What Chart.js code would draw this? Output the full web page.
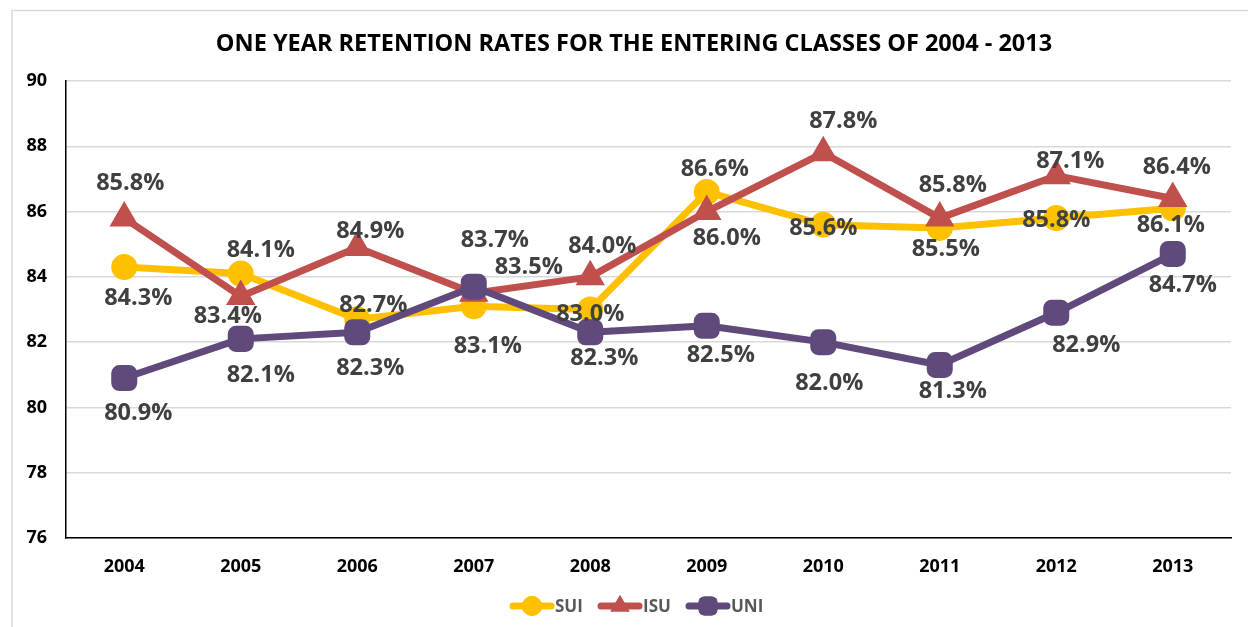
<!DOCTYPE html>
<html>
<head>
<meta charset="utf-8">
<script src="https://cdn.jsdelivr.net/npm/chart.js@4.4.1/dist/chart.umd.min.js"></script>
<style>
  html, body { margin: 0; padding: 0; background: #fff; }
  #wrap { position: relative; width: 1248px; height: 627px; }
</style>
</head>
<body>
<div id="wrap"><canvas id="c" width="1248" height="627"></canvas></div>
<script>
// ---- data ----
const categories = ['2004','2005','2006','2007','2008','2009','2010','2011','2012','2013'];
const sui = [84.3, 84.1, 82.7, 83.1, 83.0, 86.6, 85.6, 85.5, 85.8, 86.1];
const isu = [85.8, 83.4, 84.9, 83.5, 84.0, 86.0, 87.8, 85.8, 87.1, 86.4];
const uni = [80.9, 82.1, 82.3, 83.7, 82.3, 82.5, 82.0, 81.3, 82.9, 84.7];
const seriesNames = ['SUI', 'ISU', 'UNI'];
const yTicks = [76, 78, 80, 82, 84, 86, 88, 90];
const titleText = 'ONE YEAR RETENTION RATES FOR THE ENTERING CLASSES OF 2004 - 2013';

// ---- label placement (pixel offsets from each point, layout only) ----
const labelOffsets = [
  [[14,30],[20,-25],[16,-16],[14,38],[0,3],[8,-24],[0,2],[6,20],[0,1],[-2,15]],
  [[6,-36],[-13,18],[13,-18],[55,-28],[12,-32],[20,25],[20,-33],[13,-34],[14,-16],[4,-33]],
  [[14,34],[20,35],[13,34],[21,-48],[14,24],[14,28],[6,39],[13,25],[30,31],[10,30]]
];

const colors = ['#FFC000', '#C0504D', '#604A7B'];
const FONT = "'Open Sans', 'Liberation Sans', sans-serif";

const dataLabels = {
  id: 'dataLabels',
  afterDatasetsDraw(chart) {
    const ctx = chart.ctx;
    ctx.save();
    const size = 23.5;
    ctx.font = 'bold ' + size + 'px ' + FONT;
    ctx.fillStyle = '#404040';
    ctx.textAlign = 'center';
    ctx.textBaseline = 'alphabetic';
    chart.data.datasets.forEach((ds, di) => {
      const meta = chart.getDatasetMeta(di);
      meta.data.forEach((pt, i) => {
        const off = labelOffsets[di][i];
        const txt = ds.data[i].toFixed(1) + '%';
        ctx.fillText(txt, pt.x + off[0], pt.y + off[1] + size * 0.357);
      });
    });
    ctx.restore();
  }
};

const decor = {
  id: 'decor',
  beforeDraw(chart) {
    const ctx = chart.ctx;
    ctx.save();
    ctx.strokeStyle = '#d9d9d9';
    ctx.lineWidth = 1.5;
    ctx.beginPath();
    ctx.moveTo(12, 640);
    ctx.lineTo(12, 10.5);
    ctx.lineTo(1260, 10.5);
    ctx.stroke();
    ctx.restore();
  },
  afterDraw(chart) {
    const ctx = chart.ctx;
    ctx.save();
    // title
    const ts = 23.5;
    ctx.font = 'bold ' + ts + 'px ' + FONT;
    ctx.fillStyle = '#000';
    ctx.textAlign = 'center';
    ctx.textBaseline = 'alphabetic';
    ctx.fillText(titleText, 634, 42.5 + ts * 0.357);
    // legend
    const items = chart.data.datasets;
    const ly = 606;
    const starts = [510, 598, 686];
    items.forEach((ds, i) => {
      const x0 = starts[i];
      ctx.strokeStyle = ds.borderColor;
      ctx.lineWidth = 7;
      ctx.lineCap = 'round';
      ctx.beginPath();
      ctx.moveTo(x0 + 3, ly);
      ctx.lineTo(x0 + 41, ly);
      ctx.stroke();
      ctx.fillStyle = ds.borderColor;
      const style = ds.pointStyle;
      const r = style === 'circle' ? 10 : 11;
      Chart.helpers.drawPoint(ctx, { pointStyle: style, rotation: 0, borderWidth: 0, radius: r }, x0 + 22, ly);
      ctx.fill();
      ctx.fillStyle = '#595959';
      ctx.font = 'bold 17px ' + FONT;
      ctx.textAlign = 'left';
      ctx.fillText(ds.label, x0 + 45, ly + 17 * 0.357);
    });
    ctx.restore();
  }
};

function mkDataset(label, data, idx, style, radius, order) {
  return {
    label: label,
    data: data,
    borderColor: colors[idx],
    backgroundColor: colors[idx],
    borderWidth: 7,
    borderJoinStyle: 'round',
    borderCapStyle: 'round',
    tension: 0,
    pointStyle: style,
    pointRadius: radius,
    pointHoverRadius: radius,
    pointBorderWidth: 2,
    pointBackgroundColor: colors[idx],
    pointBorderColor: colors[idx],
    order: order
  };
}

new Chart(document.getElementById('c'), {
  type: 'line',
  data: {
    labels: categories,
    datasets: [
      mkDataset(seriesNames[0], sui, 0, 'circle', 12, 3),
      mkDataset(seriesNames[1], isu, 1, 'triangle', 15, 2),
      mkDataset(seriesNames[2], uni, 2, 'rectRounded', 14, 1)
    ]
  },
  options: {
    responsive: false,
    animation: false,
    layout: { padding: { left: 12, right: 11, top: 81, bottom: 0 } },
    plugins: {
      legend: { display: false },
      title: { display: false },
      tooltip: { enabled: false }
    },
    scales: {
      x: {
        type: 'category',
        offset: true,
        grid: { display: false, drawTicks: false },
        border: { display: true, color: '#000', width: 1.5 },
        ticks: { color: '#000', font: { family: FONT, size: 18, weight: 'bold' }, padding: 18, maxRotation: 0 },
        afterFit(scale) { scale.height = 89; }
      },
      y: {
        min: 76,
        max: 90,
        afterBuildTicks(scale) { scale.ticks = yTicks.map(v => ({ value: v })); },
        grid: { color: '#d9d9d9', lineWidth: 1.5, drawTicks: false },
        border: { display: true, color: '#000', width: 1.5 },
        ticks: { color: '#000', font: { family: FONT, size: 18, weight: 'bold' }, padding: 19 },
        afterFit(scale) { scale.width = 54; }
      }
    }
  },
  plugins: [decor, dataLabels]
});
</script>
</body>
</html>
